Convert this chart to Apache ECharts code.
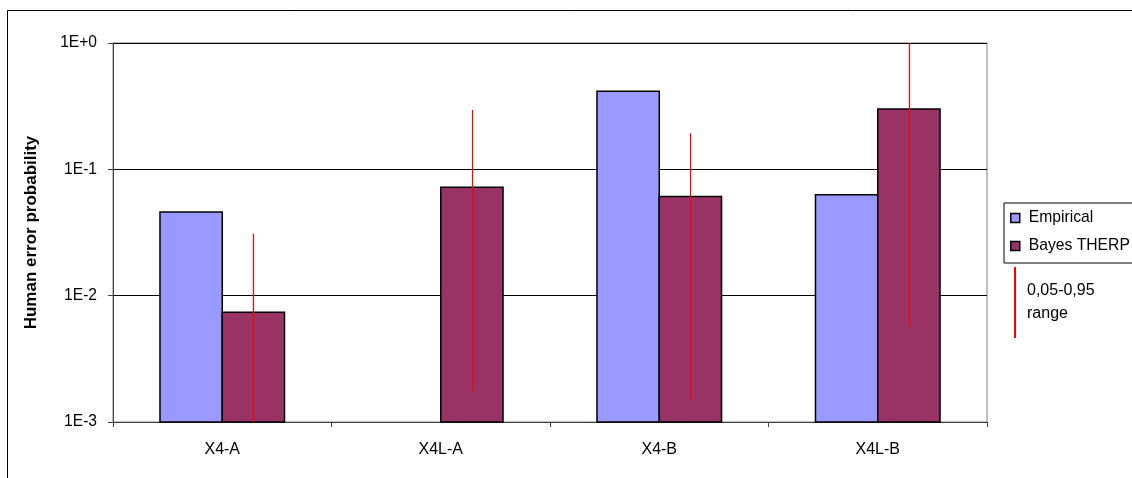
<!DOCTYPE html>
<html>
<head>
<meta charset="utf-8">
<title>Human error probability</title>
<script src="https://cdn.jsdelivr.net/npm/echarts@6/dist/echarts.min.js"></script>
<style>
  html, body { margin: 0; padding: 0; background: #fff; }
  #chart { width: 1132px; height: 478px; }
</style>
</head>
<body>
<div id="chart"></div>
<script>
// Scenario categories
const categories = ['X4-A', 'X4L-A', 'X4-B', 'X4L-B'];
// Empirical human error probabilities (no empirical value for X4L-A)
const empirical = [0.046, null, 0.415, 0.063];
// Bayesian THERP estimates
const bayesTherp = [0.0074, 0.072, 0.061, 0.30];
// 5% and 95% bounds of the Bayesian estimates
const bayesLow = [0.0008, 0.00175, 0.0015, 0.0057];
const bayesHigh = [0.031, 0.295, 0.193, 1.0];
// Axis decade tick labels
const yTickLabels = { '-3': '1E-3', '-2': '1E-2', '-1': '1E-1', '0': '1E+0' };

const FONT = 'Liberation Sans';
const EMP_COLOR = '#9999FF';
const BAYES_COLOR = '#993366';
const BAR_FRACTION = 0.285;   // share of a category band taken by one bar
const AXIS_MIN = 0.001;
const AXIS_MAX = 1;

function barRenderer(side) {
  return function (params, api) {
    const v = api.value(1);
    if (v == null || isNaN(v)) return null;
    const idx = api.value(0);
    const band = api.size([1, 0])[0];
    const w = band * BAR_FRACTION;
    const top = api.coord([idx, v]);
    const base = api.coord([idx, AXIS_MIN]);
    const x = side < 0 ? top[0] - w : top[0];
    return {
      type: 'rect',
      shape: { x: x, y: top[1], width: w, height: base[1] - top[1] },
      style: { fill: api.visual('color'), stroke: '#000', lineWidth: 1.5 }
    };
  };
}

// Vertical range line through the centre of the Bayes THERP bar,
// limited to the axis range.
function errorRenderer(params, api) {
  const idx = api.value(0);
  const band = api.size([1, 0])[0];
  const w = band * BAR_FRACTION;
  const lowVal = Math.max(api.value(1), AXIS_MIN);
  const highVal = Math.min(api.value(2), AXIS_MAX);
  const lo = api.coord([idx, lowVal]);
  const hi = api.coord([idx, highVal]);
  const x = Math.round(lo[0] + w / 2) + 0.5;
  return {
    type: 'line',
    shape: { x1: x, y1: lo[1], x2: x, y2: hi[1] },
    style: { stroke: '#FF0000', lineWidth: 1.2, opacity: 1 }
  };
}

const chart = echarts.init(document.getElementById('chart'), null, { renderer: 'canvas' });

chart.setOption({
  backgroundColor: '#fff',
  animation: false,
  textStyle: { fontFamily: FONT },
  grid: {
    left: 113, right: 145, top: 43, bottom: 56,
    show: true, borderColor: '#808080', borderWidth: 1, backgroundColor: 'transparent'
  },
  legend: {
    orient: 'vertical',
    left: 1004, top: 203,
    padding: [6, 14, 8, 6],
    borderColor: '#000', borderWidth: 1,
    itemWidth: 9, itemHeight: 9, itemGap: 10,
    icon: 'rect',
    textStyle: { fontFamily: FONT, fontSize: 15.7, color: '#000', lineHeight: 18, padding: [0, 0, 0, 4] },
    data: [
      { name: 'Empirical', itemStyle: { color: EMP_COLOR, borderColor: '#000', borderWidth: 1.5 } },
      { name: 'Bayes THERP', itemStyle: { color: BAYES_COLOR, borderColor: '#000', borderWidth: 1.5 } }
    ]
  },
  xAxis: {
    type: 'category',
    data: categories,
    boundaryGap: true,
    axisLine: { lineStyle: { color: '#404040', width: 1 } },
    axisTick: { show: true, length: 5, lineStyle: { color: '#404040' } },
    axisLabel: { fontFamily: FONT, fontSize: 16, color: '#000', margin: 20 },
    splitLine: { show: false }
  },
  yAxis: {
    type: 'log',
    logBase: 10,
    min: AXIS_MIN,
    max: AXIS_MAX,
    name: 'Human error probability',
    nameLocation: 'middle',
    nameGap: 73,
    nameTextStyle: { fontFamily: FONT, fontSize: 17, fontWeight: 'bold', color: '#000' },
    axisLine: { show: true, lineStyle: { color: '#404040', width: 1 } },
    axisTick: { show: true, length: 5, inside: false, lineStyle: { color: '#404040' } },
    axisLabel: {
      fontFamily: FONT, fontSize: 15.6, color: '#000', margin: 16,
      formatter: function (v) {
        const k = String(Math.round(Math.log10(v)));
        return yTickLabels[k] || '';
      }
    },
    splitLine: { show: true, lineStyle: { color: '#000', width: 1 } },
    minorTick: { show: false }
  },
  series: [
    {
      name: 'Empirical',
      type: 'custom',
      itemStyle: { color: EMP_COLOR, borderColor: '#000', borderWidth: 1.5 },
      renderItem: barRenderer(-1),
      encode: { x: 0, y: 1 },
      clip: false,
      data: empirical.map((v, i) => [i, v == null ? '-' : v])
    },
    {
      name: 'Bayes THERP',
      type: 'custom',
      itemStyle: { color: BAYES_COLOR, borderColor: '#000', borderWidth: 1.5 },
      renderItem: barRenderer(1),
      encode: { x: 0, y: 1 },
      clip: false,
      data: bayesTherp.map((v, i) => [i, v])
    },
    {
      name: '0,05-0,95 range',
      type: 'custom',
      renderItem: errorRenderer,
      encode: { x: 0, y: [1, 2] },
      clip: false,
      z: 5,
      data: bayesLow.map((v, i) => [i, v, bayesHigh[i]])
    }
  ],
  graphic: [
    {
      type: 'rect',
      silent: true,
      z: -10,
      shape: { x: 7.5, y: 10.5, width: 1200, height: 600 },
      style: { fill: 'none', stroke: '#000', lineWidth: 1 }
    },
    {
      type: 'line',
      silent: true,
      shape: { x1: 1015, y1: 267, x2: 1015, y2: 338 },
      style: { stroke: '#FF0000', lineWidth: 2 }
    },
    {
      type: 'text',
      silent: true,
      left: 1027, top: 279,
      style: {
        text: '0,05-0,95\nrange',
        font: '16px "Liberation Sans"',
        lineHeight: 23,
        fill: '#000'
      }
    }
  ]
});
</script>
</body>
</html>
